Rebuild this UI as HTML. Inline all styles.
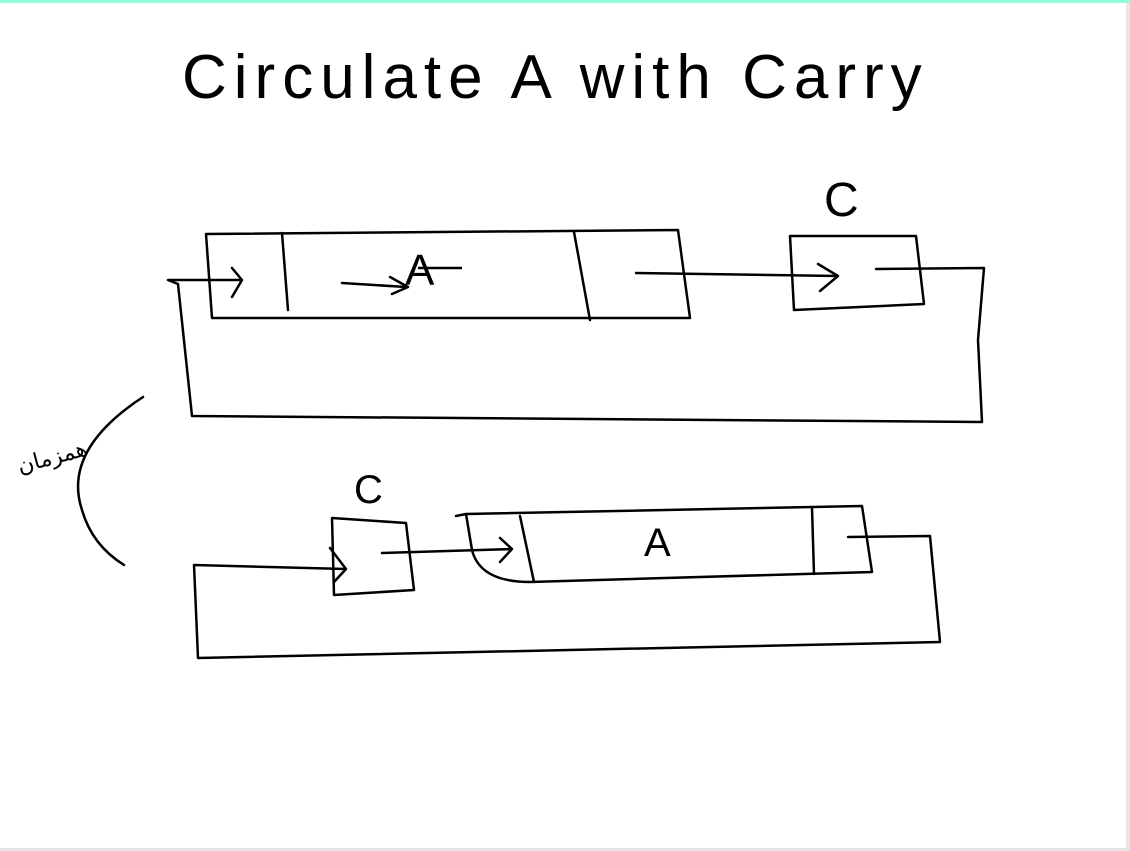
<!DOCTYPE html>
<html><head><meta charset="utf-8"><style>
html,body{margin:0;padding:0;background:#fff;}
svg{display:block}
text{font-family:"Liberation Sans","DejaVu Sans",sans-serif;}
</style></head><body>
<svg width="1130" height="851" viewBox="0 0 1130 851" xmlns="http://www.w3.org/2000/svg">
<rect x="0" y="0" width="1130" height="851" fill="#fff"/>
<rect x="0" y="0" width="1130" height="3" fill="#8fffd6"/>
<rect x="1126" y="3" width="4" height="848" fill="#e6e6e6"/>
<rect x="0" y="848" width="1130" height="3" fill="#e6e6e6"/>
<text x="182" y="98" font-size="62" fill="#000" style="letter-spacing:7px">Circulate  A with Carry</text>
<g fill="none" stroke="#000" stroke-width="2.5" stroke-linecap="round" stroke-linejoin="round">
<g>
<path d="M206 234 L678 230 L690 318 L212 318 Z"/>
<path d="M282 233 L288 310"/>
<path d="M574 232 L590 320"/>
</g>
<g>
<path d="M790 236 L916 236 L924 304 L794 310 Z"/>
</g>
<path d="M636 273 L838 276 M818 264 L838 276 L820 291"/>
<path d="M342 283 L406 287 M390 277 L408 287 L392 294"/>
<path d="M876 269 L984 268 L978 340 L982 422 L192 416 L178 284 L168 280 L242 280 M232 268 L242 280 L232 297"/>
<path d="M143 397 Q62 450 82 510 Q92 545 124 565"/>
<g>
<path d="M332 518 L406 523 L414 590 L334 595 Z"/>
</g>
<g>
<path d="M456 516 L466 514 L862 506 L872 572 L530 582 Q480 582 472 550 L466 514"/>
<path d="M520 516 L534 582"/>
<path d="M812 508 L814 574"/>
</g>
<path d="M382 553 L512 549 M500 538 L512 549 L500 562"/>
<path d="M848 537 L930 536 L940 642 L198 658 L194 565 L346 569 M330 548 L346 569 L334 582"/>
</g>
<text x="405" y="285" font-size="44" fill="#000">A</text>
<path d="M418 268 L462 268" stroke="#000" stroke-width="2.5" fill="none"/>
<text x="824" y="216" font-size="48" fill="#000">C</text>
<text x="644" y="556" font-size="40" fill="#000">A</text>
<text x="354" y="503" font-size="40" fill="#000">C</text>
<text x="16" y="465" font-size="22" fill="#000" style="font-family:'DejaVu Sans',sans-serif" transform="rotate(-15 50 455)">همزمان</text>
</svg>
</body></html>
